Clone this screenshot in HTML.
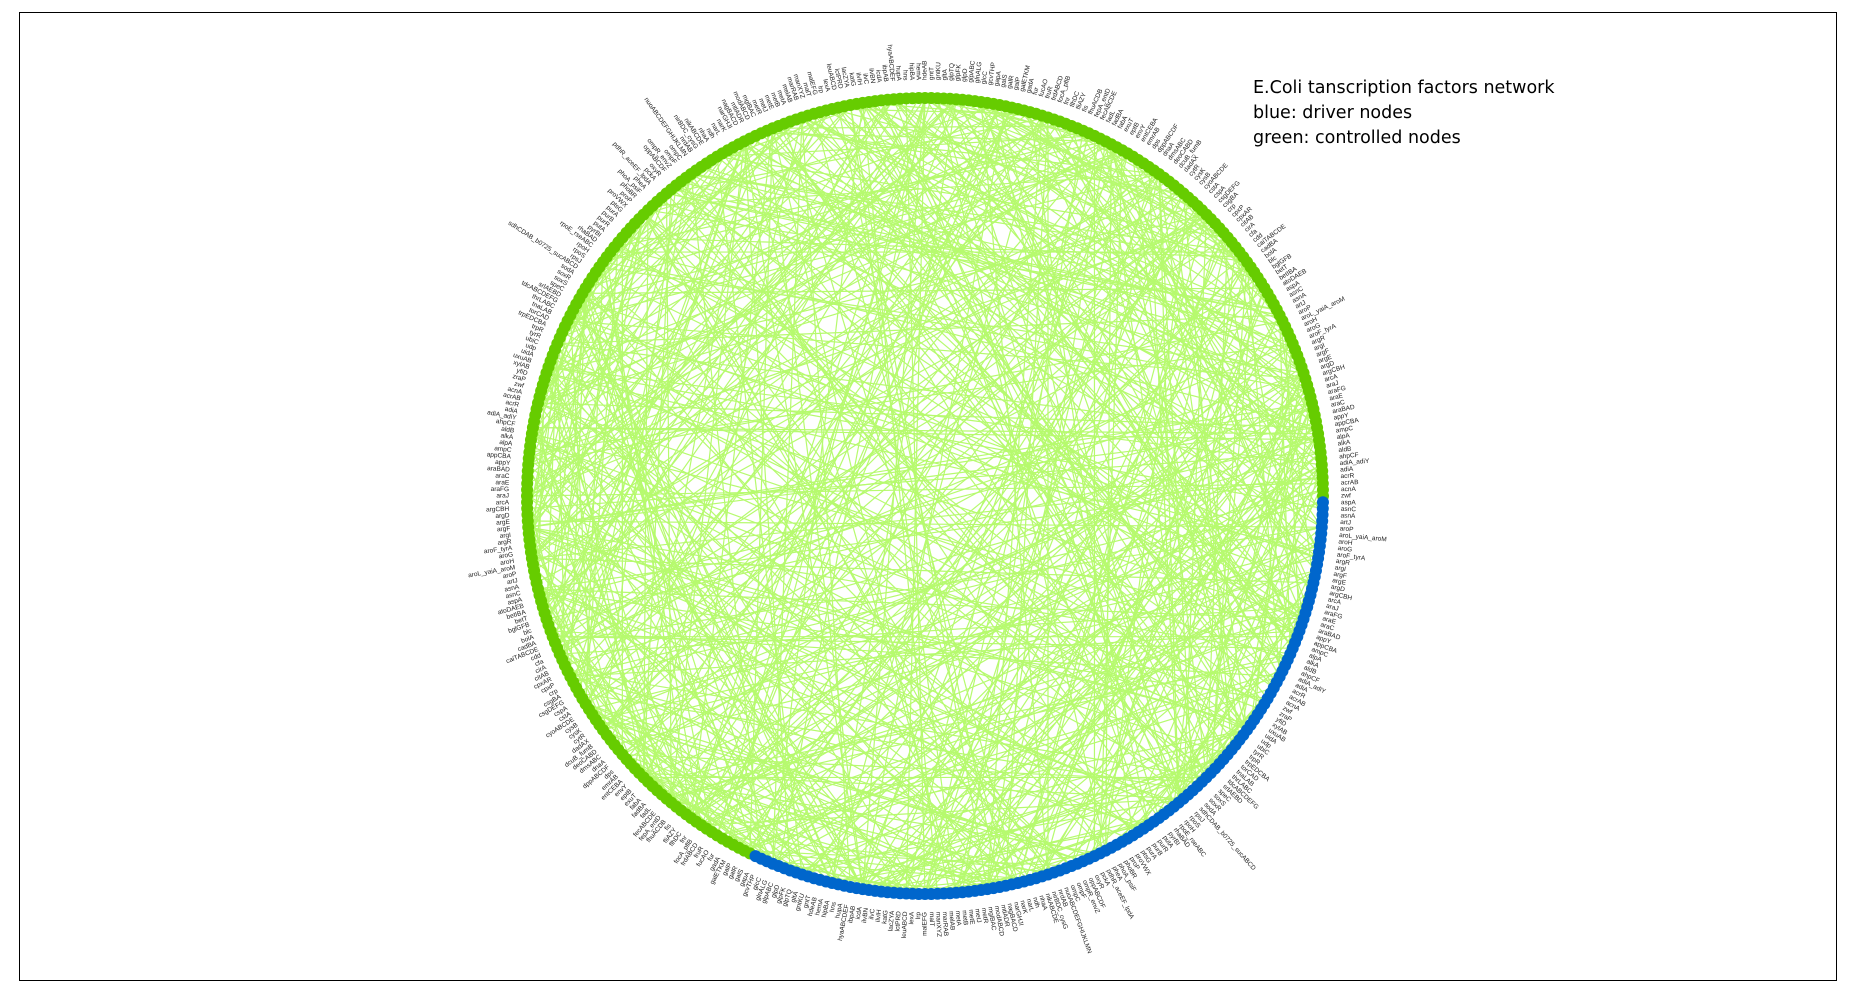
<!DOCTYPE html>
<html><head><meta charset="utf-8"><style>
html,body{margin:0;padding:0;background:#fff;}
svg{display:block;font-family:"Liberation Sans","DejaVu Sans",sans-serif;}
</style></head><body>
<svg id="chart" width="1853" height="989" viewBox="0 0 1853 989">
<rect x="19.5" y="12.5" width="1817" height="968" fill="#fff" stroke="#000" stroke-width="1"/>
<g id="edges"></g>
<g id="nodes"></g>
<g id="labels"></g>
<g font-size="17.5" fill="#000" style="font-family:'DejaVu Sans','Liberation Sans',sans-serif">
<text x="1253" y="93">E.Coli tanscription factors network</text>
<text x="1253" y="118">blue: driver nodes</text>
<text x="1253" y="143">green: controlled nodes</text>
</g>
</svg>
<script>
const nodeNames = ["zwf","acnA","acrAB","acrR","adiA","adiA_adiY","ahpCF","aldB","alkA","alpA","ampC","appCBA","appY","araBAD","araC","araE","araFG","araJ","arcA","argCBH","argD","argE","argF","argI","argR","aroF_tyrA","aroG","aroH","aroL_yaiA_aroM","aroP","artJ","asnA","asnC","aspA","atoDAEB","betIBA","betT","bglGFB","blc","bolA","cadBA","caiTABCDE","cdd","cfa","cirA","citAB","cpxAR","cpxP","crp","csgBA","csgDEFG","cspA","cstA","cyoABCDE","cysB","cysK","cytR","dadAX","dcuB_fumB","deoCABD","dmsABC","dnaA","dppABCDF","dps","emrAB","entCEBA","envY","eptB","exuT","fabA","fadBA","fadL","fecABCDE","fepA_entD","fhuACDB","fis","fliAZY","flhDC","fnr","focA_pflB","frdABCD","fruR","fucAO","fur","gadA","galETKM","galP","galR","galS","gapA","gcvTHP","glcC","glnALG","glpABC","glpD","glpFK","glpTQ","gltA","gntKU","gntT","hdeAB","hemA","hipBA","hns","hupA","hyaABCDEF","ibpAB","icdA","ilvBN","ilvC","ilvIH","katG","lacZYA","lctPRD","leuABCD","lexA","lrp","malEFG","malT","manXYZ","marRAB","melAB","metA","metB","metE","metJ","metR","mglBAC","modABCD","mtlADR","nagBACD","narGHJI","narK","narL","ndh","nhaA","nikABCDE","nirBDC_cysG","nrdAB","nuoABCDEFGHIJKLMN","ompC","ompF","ompR_envZ","oppABCDF","oxyR","pckA","pdhR_aceEF_lpdA","pheA","phoA_psiF","phoBR","proP","proVWX","ptsG","purA","purB","purR","putA","pyrBI","rhaBAD","rpoE_rseABC","rpoH","rpoS","rpsJ","sdhCDAB_b0725_sucABCD","sodA","soxR","soxS","speC","srlAEBD","tdcABCDEFG","thrLABC","tnaLAB","torCAD","trpEDCBA","trpR","tyrR","ubiC","udp","uidA","uxuAB","xylAB","yfiD","zraP"];
const nodeCount = 400;
const driverFraction = 0.32;
const edgeSrc = [3,17,45,88,120,150,201,233,260,299,310,355,380,12,66,91,140,177,210,245,272,301,333,366,391,7,29,58,97,133,168,190,222,256,289,317,348,372,395,21,50,79,111,144,175,206,238,269,295,326,357,388,14,43,72,103,135,166,197,228,259,290,321,352,383,9,38,67,98,129,160,191,224,255,286,318,349,377,25,54,83,114,145,178,209,240,271,304,336,368,2,31,60,93,124,157,188,219,250,281,312,343,374,398,18,47,76,107,138,169,200,231,262,293,324,355,386,33,62,95,126,161,192,223,254,285,316,347,378,5,36,65,96,127,158,189,220,251,282,313,344,375,11,40,69,100,131,162,193,226,257,288,319,350,381,27,56,85,116,147,180,211,242,273,306,337,369,16,48,81,112,143,174,205,236,267,298,329,360,391,23,52,84,115,146,179,212,243,274,305,338,370,1,30,61,92,123,156,187,218,249,280,311,342,373,397,8,37,68,99,130,163,194,225,258,287,320,351,382,20,49,80,109,142,171,204,235,266,297,328,359,390];
const edgeDst = [210,160,300,250,20,330,90,140,35,170,70,205,110,240,185,320,42,365,95,155,55,210,15,120,180,280,195,360,225,10,290,75,370,130,60,200,145,305,82,260,315,185,345,30,250,115,390,165,40,230,125,275,205,380,160,300,45,345,95,150,25,180,265,110,335,220,290,180,340,15,235,105,395,60,165,10,245,150,275,330,200,360,30,255,80,310,125,20,190,95,200,140,310,220,385,70,280,150,320,40,245,105,205,130,285,375,230,350,25,330,90,130,345,5,270,125,210,60,240,285,135,20,360,100,300,175,235,60,190,255,305,170,345,70,390,10,175,120,250,30,215,105,260,140,330,290,205,380,25,265,215,120,365,45,395,100,260,160,350,195,380,55,265,300,10,165,340,110,235,55,205,170,290,15,310,100,240,360,130,70,35,315,180,380,140,275,60,205,245,130,385,95,230,175,300,50,120,235,175,270,345,20,225,365,185,75,110,250,35,265,290,160,320,45,195,360,80,170,270,100,200,145,5,340,60,395,85,215,320,40,185,120,360,195,85,130,275,5,300,150];

const cx = 925, cy = 496, R = 398;
const driverStart = Math.round(nodeCount * (1 - driverFraction));
const ns = "http://www.w3.org/2000/svg";
function angleOf(i){ return 2*Math.PI*i/nodeCount; }
function px(i){ return cx + R*Math.cos(angleOf(i)); }
function py(i){ return cy - R*Math.sin(angleOf(i)); }

const eg = document.getElementById('edges');
function addEdge(a,b){
  const l = document.createElementNS(ns,'line');
  l.setAttribute('x1',px(a));l.setAttribute('y1',py(a));
  l.setAttribute('x2',px(b));l.setAttribute('y2',py(b));
  l.setAttribute('stroke','#b6fa6e');l.setAttribute('stroke-width','1.2');
  
  
  eg.appendChild(l);
}
const nE = Math.min(edgeSrc.length,edgeDst.length);
for (let k=0;k<nE;k++) addEdge(edgeSrc[k], edgeDst[k]);
for (let k=0;k<nE;k++) addEdge((edgeSrc[k]+edgeDst[(k+7)%nE])%nodeCount, edgeDst[(k+13)%nE]);
for (let k=0;k<nE;k++) addEdge((edgeDst[k]+edgeSrc[(k+29)%nE])%nodeCount, edgeSrc[(k+53)%nE]);

const ng = document.getElementById('nodes');
const lg = document.getElementById('labels');
for (let i=0;i<nodeCount;i++){
  const c = document.createElementNS(ns,'circle');
  c.setAttribute('cx',px(i));c.setAttribute('cy',py(i));c.setAttribute('r',6);
  c.setAttribute('fill', i>=driverStart ? '#0066cc' : '#66cc00');
  
  
  ng.appendChild(c);
  const a = angleOf(i), deg = -a*180/Math.PI;
  const lr = R + 18;
  const tx = cx + lr*Math.cos(a), ty = cy - lr*Math.sin(a);
  const t = document.createElementNS(ns,'text');
  t.textContent = nodeNames[i % nodeNames.length];
  t.setAttribute('font-size','6.5');
  t.setAttribute('fill','#222');
  const left = Math.cos(a) < 0;
  t.setAttribute('text-anchor', left ? 'end' : 'start');
  t.setAttribute('dominant-baseline','middle');
  t.setAttribute('transform','translate('+tx+','+ty+') rotate('+(left?deg+180:deg)+')');
  
  
  lg.appendChild(t);
}
</script>
</body></html>
